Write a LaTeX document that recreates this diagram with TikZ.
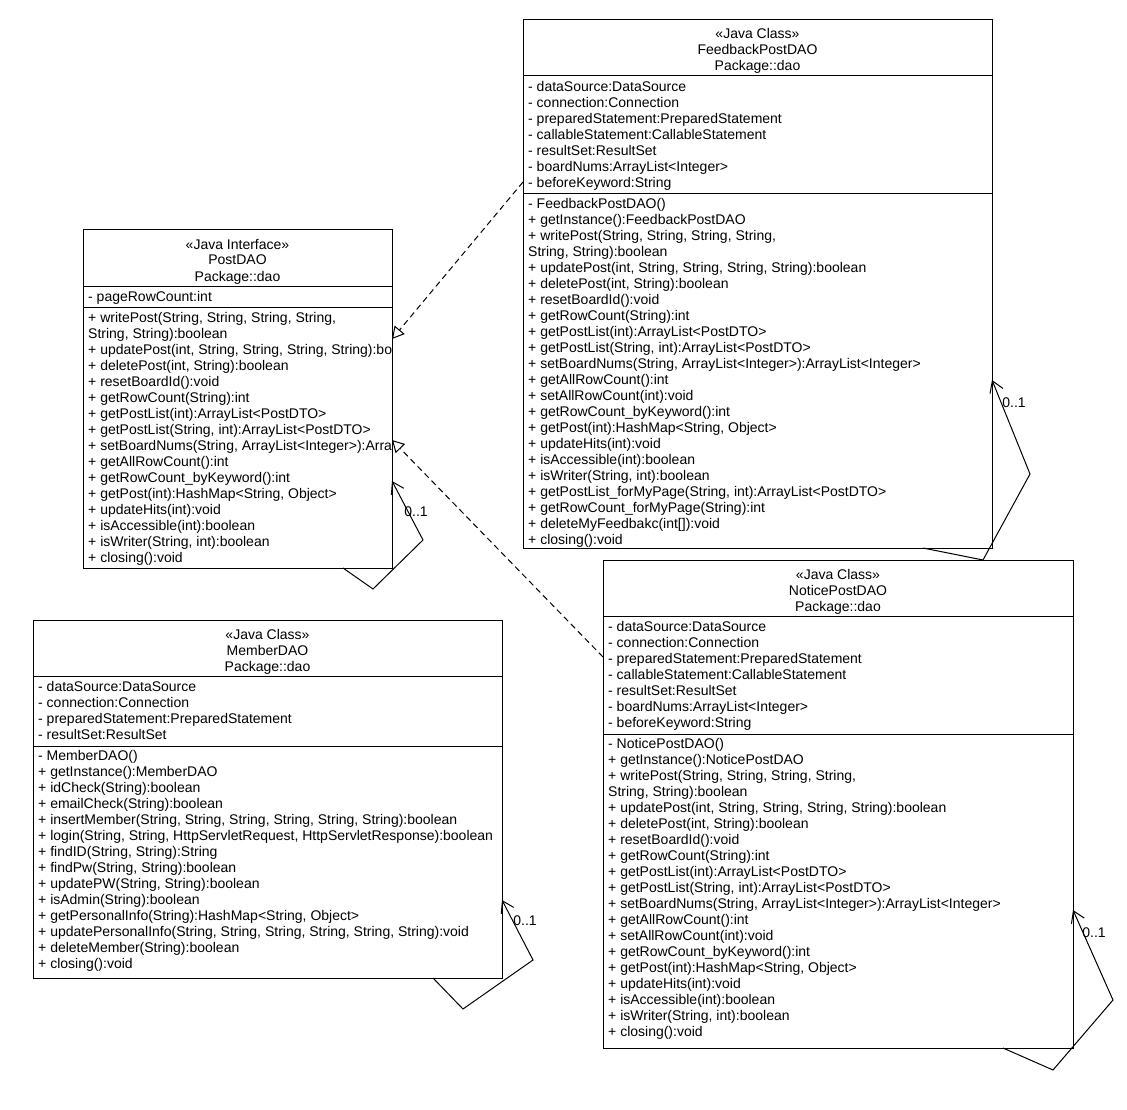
\documentclass[tikz,border=0pt]{standalone}
\usepackage{fontspec}
\setmainfont{Liberation Sans}
\usetikzlibrary{arrows.meta,calc}

\tikzset{
  umlbox/.style={draw=black, fill=white, line width=1pt, anchor=north west,
    inner sep=0pt, outer sep=0pt},
  rowtext/.style={anchor=base west, inner sep=0pt, font=\fontsize{14}{16}\selectfont},
  headtext/.style={anchor=base, inner sep=0pt, font=\fontsize{14}{16}\selectfont},
  compline/.style={line width=1pt},
  selfref/.style={line width=1pt, -{Straight Barb[length=11pt,width=14pt]}},
  realize/.style={line width=1pt, dash pattern=on 6pt off 4pt,
    -{Triangle[length=12pt,width=13pt,fill=white]}},
  mult/.style={font=\fontsize{14}{16}\selectfont, inner sep=0pt, anchor=center}
}

% rows of a compartment: name prefix, left x, centre y of the first row, items
\newcommand{\umlrows}[4]{%
  \foreach \rowtxt [count=\i from 0] in {#4}{%
    \node[rowtext] (#1\i) at (#2+5, #3+16*\i+5.5) {\rowtxt};
  }%
}
% three centred title rows: name prefix, centre x, top y, items
\newcommand{\umlhead}[4]{%
  \foreach \headtxt [count=\i from 0] in {#4}{%
    \node[headtext] (#1\i) at (#2, #3+13+16*\i+6) {\headtxt};
  }%
}

\begin{document}
\begin{tikzpicture}[x=1pt,y=-1pt]
\fill[white] (0,0) rectangle (1127,1110);
\useasboundingbox (0,0) rectangle (1127,1110);

% ---------------- FeedbackPostDAO ----------------
\node[umlbox, minimum width=469pt, minimum height=528pt] (fb) at (523,20) {};
\draw[compline] ($(fb.north west)+(0,56)$) -- ++(469,0);
\draw[compline] ($(fb.north west)+(0,174)$) -- ++(469,0);
\begin{scope}
\clip (523,20) rectangle (992,548);
\umlhead{fbh}{757.5}{20}{{«Java Class»},{FeedbackPostDAO},{Package::dao}}
\umlrows{fba}{523}{86}{%
  {- dataSource:DataSource},
  {- connection:Connection},
  {- preparedStatement:PreparedStatement},
  {- callableStatement:CallableStatement},
  {- resultSet:ResultSet},
  {- boardNums:ArrayList<Integer>},
  {- beforeKeyword:String}}
\umlrows{fbm}{523}{203}{%
  {- FeedbackPostDAO()},
  {+ getInstance():FeedbackPostDAO},
  {+ writePost(String, String, String, String,},
  {String, String):boolean},
  {+ updatePost(int, String, String, String, String):boolean},
  {+ deletePost(int, String):boolean},
  {+ resetBoardId():void},
  {+ getRowCount(String):int},
  {+ getPostList(int):ArrayList<PostDTO>},
  {+ getPostList(String, int):ArrayList<PostDTO>},
  {+ setBoardNums(String, ArrayList<Integer>):ArrayList<Integer>},
  {+ getAllRowCount():int},
  {+ setAllRowCount(int):void},
  {+ getRowCount\_byKeyword():int},
  {+ getPost(int):HashMap<String, Object>},
  {+ updateHits(int):void},
  {+ isAccessible(int):boolean},
  {+ isWriter(String, int):boolean},
  {+ getPostList\_forMyPage(String, int):ArrayList<PostDTO>},
  {+ getRowCount\_forMyPage(String):int},
  {+ deleteMyFeedbakc(int[]):void},
  {+ closing():void}}
\end{scope}

% ---------------- PostDAO ----------------
\node[umlbox, minimum width=309pt, minimum height=338pt] (pd) at (83,230) {};
\draw[compline] ($(pd.north west)+(0,56)$) -- ++(309,0);
\draw[compline] ($(pd.north west)+(0,77)$) -- ++(309,0);
\begin{scope}
\clip (83,230) rectangle (392,568);
\umlhead{pdh}{237.5}{230}{{«Java Interface»},{PostDAO},{Package::dao}}
\umlrows{pda}{83}{296}{{- pageRowCount:int}}
\umlrows{pdm}{83}{317}{%
  {+ writePost(String, String, String, String,},
  {String, String):boolean},
  {+ updatePost(int, String, String, String, String):boolean},
  {+ deletePost(int, String):boolean},
  {+ resetBoardId():void},
  {+ getRowCount(String):int},
  {+ getPostList(int):ArrayList<PostDTO>},
  {+ getPostList(String, int):ArrayList<PostDTO>},
  {+ setBoardNums(String, ArrayList<Integer>):ArrayList<Integer>},
  {+ getAllRowCount():int},
  {+ getRowCount\_byKeyword():int},
  {+ getPost(int):HashMap<String, Object>},
  {+ updateHits(int):void},
  {+ isAccessible(int):boolean},
  {+ isWriter(String, int):boolean},
  {+ closing():void}}
\end{scope}

% ---------------- NoticePostDAO ----------------
\node[umlbox, minimum width=470pt, minimum height=488pt] (np) at (603,560) {};
\draw[compline] ($(np.north west)+(0,56)$) -- ++(470,0);
\draw[compline] ($(np.north west)+(0,174)$) -- ++(470,0);
\begin{scope}
\clip (603,560) rectangle (1073,1048);
\umlhead{nph}{838}{560}{{«Java Class»},{NoticePostDAO},{Package::dao}}
\umlrows{npa}{603}{626}{%
  {- dataSource:DataSource},
  {- connection:Connection},
  {- preparedStatement:PreparedStatement},
  {- callableStatement:CallableStatement},
  {- resultSet:ResultSet},
  {- boardNums:ArrayList<Integer>},
  {- beforeKeyword:String}}
\umlrows{npm}{603}{743}{%
  {- NoticePostDAO()},
  {+ getInstance():NoticePostDAO},
  {+ writePost(String, String, String, String,},
  {String, String):boolean},
  {+ updatePost(int, String, String, String, String):boolean},
  {+ deletePost(int, String):boolean},
  {+ resetBoardId():void},
  {+ getRowCount(String):int},
  {+ getPostList(int):ArrayList<PostDTO>},
  {+ getPostList(String, int):ArrayList<PostDTO>},
  {+ setBoardNums(String, ArrayList<Integer>):ArrayList<Integer>},
  {+ getAllRowCount():int},
  {+ setAllRowCount(int):void},
  {+ getRowCount\_byKeyword():int},
  {+ getPost(int):HashMap<String, Object>},
  {+ updateHits(int):void},
  {+ isAccessible(int):boolean},
  {+ isWriter(String, int):boolean},
  {+ closing():void}}
\end{scope}

% ---------------- MemberDAO ----------------
\node[umlbox, minimum width=469pt, minimum height=358pt] (md) at (33,620) {};
\draw[compline] ($(md.north west)+(0,56)$) -- ++(469,0);
\draw[compline] ($(md.north west)+(0,126)$) -- ++(469,0);
\begin{scope}
\clip (33,620) rectangle (502,978);
\umlhead{mdh}{267.5}{620}{{«Java Class»},{MemberDAO},{Package::dao}}
\umlrows{mda}{33}{686}{%
  {- dataSource:DataSource},
  {- connection:Connection},
  {- preparedStatement:PreparedStatement},
  {- resultSet:ResultSet}}
\umlrows{mdm}{33}{755}{%
  {- MemberDAO()},
  {+ getInstance():MemberDAO},
  {+ idCheck(String):boolean},
  {+ emailCheck(String):boolean},
  {+ insertMember(String, String, String, String, String, String):boolean},
  {+ login(String, String, HttpServletRequest, HttpServletResponse):boolean},
  {+ findID(String, String):String},
  {+ findPw(String, String):boolean},
  {+ updatePW(String, String):boolean},
  {+ isAdmin(String):boolean},
  {+ getPersonalInfo(String):HashMap<String, Object>},
  {+ updatePersonalInfo(String, String, String, String, String, String):void},
  {+ deleteMember(String):boolean},
  {+ closing():void}}
\end{scope}

% ---------------- realizations ----------------
\draw[realize] ($(fb.north west)+(0,162)$) -- ($(pd.north east)+(0,109)$);
\draw[realize] ($(np.north west)+(0,97)$) -- ($(pd.north east)+(0,210)$);

% ---------------- self references ----------------
\coordinate (pdbend1) at (373,589);
\coordinate (pdbend2) at (423,540);
\draw[selfref] ($(pd.south east)+(-49,0)$) -- (pdbend1) -- (pdbend2)
  -- ($(pd.north east)+(0,251)$);
\node[mult] (pdmult) at (416,512) {0..1};

\coordinate (fbbend1) at (983,560);
\coordinate (fbbend2) at (1030,474);
\draw[selfref] ($(fb.south east)+(-69,0)$) -- (fbbend1) -- (fbbend2)
  -- ($(fb.north east)+(0,360)$);
\node[mult] (fbmult) at (1014,403) {0..1};

\coordinate (mdbend1) at (463,1009);
\coordinate (mdbend2) at (533,960);
\draw[selfref] ($(md.south east)+(-69,0)$) -- (mdbend1) -- (mdbend2)
  -- ($(md.north east)+(0,280)$);
\node[mult] (mdmult) at (525,921) {0..1};

\coordinate (npbend1) at (1053,1070);
\coordinate (npbend2) at (1113,1000);
\draw[selfref] ($(np.south east)+(-70,0)$) -- (npbend1) -- (npbend2)
  -- ($(np.north east)+(0,350)$);
\node[mult] (npmult) at (1094,933) {0..1};
\end{tikzpicture}
\end{document}
